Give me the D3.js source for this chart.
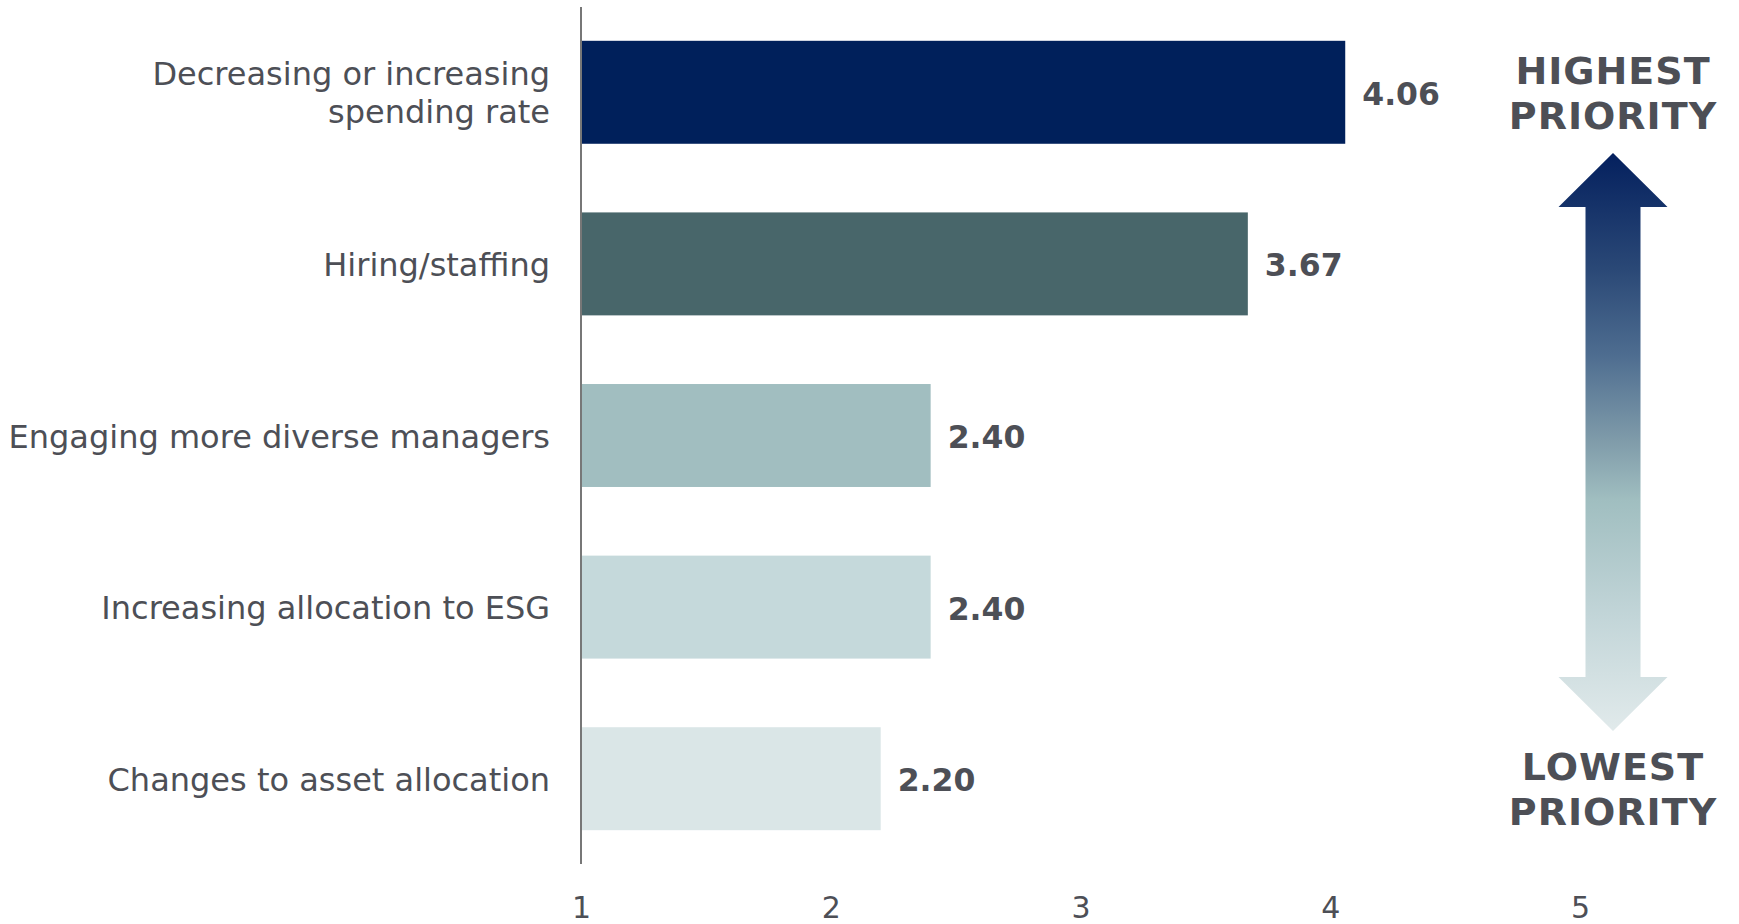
<!DOCTYPE html>
<html>
<head>
<meta charset="utf-8">
<script src="https://cdn.jsdelivr.net/npm/d3@7"></script>
<style>
  html, body { margin: 0; padding: 0; background: #fff; }
  svg { display: block; }
</style>
</head>
<body>
<svg id="chart" width="1739" height="924"></svg>
<script>
// ---- data ----
const categories = [
  "Decreasing or increasing\nspending rate",
  "Hiring/staffing",
  "Engaging more diverse managers",
  "Increasing allocation to ESG",
  "Changes to asset allocation"
];
const values = [4.06, 3.67, 2.40, 2.40, 2.20];
const barColors = ["#00205B", "#48666A", "#A1BEC0", "#C5D9DB", "#DAE6E7"];
const tickValues = [1, 2, 3, 4, 5];
const topLabel = ["HIGHEST", "PRIORITY"];
const bottomLabel = ["LOWEST", "PRIORITY"];

// ---- layout ----
const textColor = "#4D4F56";
const svg = d3.select("#chart");
const x = d3.scaleLinear().domain([1, 5]).range([581, 1580]);
const y = d3.scaleBand().domain(categories).range([7, 864]).paddingInner(0.4).paddingOuter(0.197);

// bars
svg.append("g").selectAll("rect").data(categories).join("rect")
  .attr("x", x(1))
  .attr("y", d => y(d))
  .attr("width", (d, i) => x(values[i]) - x(1))
  .attr("height", y.bandwidth())
  .attr("fill", (d, i) => barColors[i]);

// y axis line
const yAxis = svg.append("g").attr("transform", `translate(${x(1)},0)`)
  .call(d3.axisLeft(y).tickSize(0).tickFormat(""));
yAxis.select(".domain").attr("stroke", "#777").attr("stroke-width", 2).attr("d", "M0,7V864");

// category labels
const catG = svg.append("g");
categories.forEach((c, i) => {
  const lines = c.split("\n");
  const cy = y(c) + y.bandwidth() / 2;
  const lh = 38;
  const t = catG.append("text")
    .attr("x", 550)
    .attr("text-anchor", "end")
    .attr("font-family", "DejaVu Sans, Verdana, sans-serif")
    .attr("font-size", 32)
    .attr("fill", textColor);
  lines.forEach((l, j) => {
    t.append("tspan")
      .attr("x", 550)
      .attr("y", cy + 12 + (j - (lines.length - 1) / 2) * lh)
      .text(l);
  });
});

// value labels
svg.append("g").selectAll("text").data(categories).join("text")
  .attr("x", (d, i) => x(values[i]) + 17)
  .attr("y", d => y(d) + y.bandwidth() / 2 + 12.5)
  .attr("font-family", "DejaVu Sans, Verdana, sans-serif")
  .attr("font-weight", "bold")
  .attr("font-size", 31.5)
  .attr("fill", textColor)
  .text((d, i) => values[i].toFixed(2));

// x axis tick labels
const xAxis = svg.append("g").attr("transform", "translate(0,918)")
  .call(d3.axisBottom(x).tickValues(tickValues).tickSize(0).tickFormat(d3.format("d")));
xAxis.select(".domain").remove();
xAxis.selectAll("text")
  .attr("y", 0).attr("dy", 0)
  .attr("font-family", "DejaVu Sans, Verdana, sans-serif")
  .attr("font-size", 30)
  .attr("fill", textColor);

// priority arrow
const defs = svg.append("defs");
const grad = defs.append("linearGradient").attr("id", "arrowGrad")
  .attr("x1", 0).attr("y1", 0).attr("x2", 0).attr("y2", 1);
[[0, "#04205E"], [0.2, "#2A4876"], [0.35, "#4E6D90"], [0.5, "#809CAA"], [0.6, "#A0BEC0"], [0.8, "#C2D5D8"], [1, "#E1EAEB"]]
  .forEach(s => grad.append("stop").attr("offset", s[0]).attr("stop-color", s[1]));

const ax = 1613, tipTop = 153, headTop = 207, headBot = 677, tipBot = 731, headHalf = 54.5, shaftHalf = 27.5;
const p = d3.path();
p.moveTo(ax, tipTop);
p.lineTo(ax + headHalf, headTop);
p.lineTo(ax + shaftHalf, headTop);
p.lineTo(ax + shaftHalf, headBot);
p.lineTo(ax + headHalf, headBot);
p.lineTo(ax, tipBot);
p.lineTo(ax - headHalf, headBot);
p.lineTo(ax - shaftHalf, headBot);
p.lineTo(ax - shaftHalf, headTop);
p.lineTo(ax - headHalf, headTop);
p.closePath();
svg.append("path").attr("d", p.toString()).attr("fill", "url(#arrowGrad)");

function priorityText(lines, baselines) {
  lines.forEach((l, j) => {
    svg.append("text")
      .attr("x", ax)
      .attr("y", baselines[j])
      .attr("text-anchor", "middle")
      .attr("font-family", "DejaVu Sans, Verdana, sans-serif")
      .attr("font-weight", "bold")
      .attr("font-size", 38)
      .attr("letter-spacing", 1)
      .attr("fill", textColor)
      .text(l);
  });
}
priorityText(topLabel, [84, 129]);
priorityText(bottomLabel, [780, 825]);
</script>
</body>
</html>
